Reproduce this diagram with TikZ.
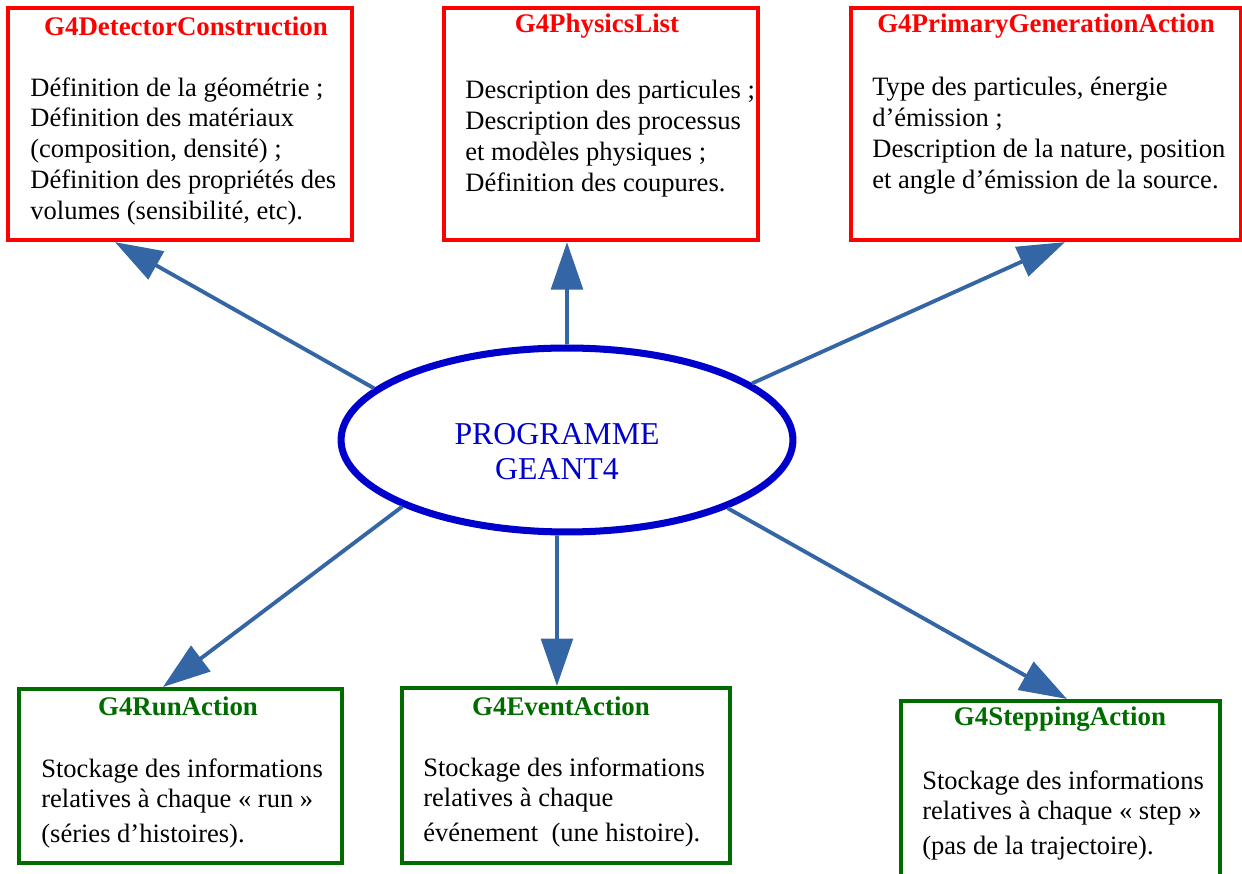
\documentclass[tikz,border=0pt]{standalone}
\usepackage{fontspec}
\setmainfont{Liberation Serif}
\usetikzlibrary{arrows.meta,shapes.geometric}

\definecolor{boxred}{RGB}{255,0,0}
\definecolor{boxgreen}{RGB}{0,108,0}
\definecolor{linkblue}{RGB}{52,101,164}
\definecolor{progblue}{RGB}{0,0,204}

\tikzset{
	classbox/.style={shape=rectangle, anchor=north west, line width=2.1pt, inner sep=0pt},
	redbox/.style={classbox, draw=boxred},
	greenbox/.style={classbox, draw=boxgreen},
	title/.style={font=\fontsize{15.3}{17.6}\selectfont\bfseries, inner sep=0pt},
	body/.style={font=\fontsize{15.1}{17.6}\selectfont, align=left, anchor=north west, inner sep=0pt},
	link/.style={-{Triangle[length=27pt,width=18pt]}, color=linkblue, line width=2.2pt}
}

\begin{document}
\begin{tikzpicture}[x=0.02cm, y=-0.02cm]
	
	\useasboundingbox (0,0) rectangle (1242,874);
	\clip (0,0) rectangle (1242,874);
	
	% classes filled in by the user
	\node[redbox, minimum width=6.89cm, minimum height=4.65cm] (det) at (6,6) {};
	\node[redbox, minimum width=6.29cm, minimum height=4.65cm] (phys) at (442,6) {};
	\node[redbox, minimum width=7.8cm, minimum height=4.65cm] (prim) at (849,6) {};
	\node[title, boxred] (detT) at (186,26) {G4DetectorConstruction};
	\node[title, boxred] (physT) at (597,26) {G4PhysicsList};
	\node[title, boxred] (primT) at (1046,26) {G4PrimaryGenerationAction};
	\node[body] (detX) at (30,77) {Définition de la géométrie ;\\Définition des matériaux\\(composition, densité) ;\\Définition des propriétés des\\volumes (sensibilité, etc).};
	\node[body] (physX) at (465,80) {Description des particules ;\\Description des processus\\et modèles physiques ;\\Définition des coupures.};
	\node[body] (primX) at (872,77) {Type des particules, énergie\\d’émission ;\\Description de la nature, position\\et angle d’émission de la source.};
	
	% optional user actions
	\node[greenbox, minimum width=6.46cm, minimum height=3.49cm] (run) at (17,687) {};
	\node[greenbox, minimum width=6.56cm, minimum height=3.51cm] (event) at (400,686) {};
	\node[greenbox, minimum width=6.39cm, minimum height=4cm] (step) at (899,699) {};
	\node[title, boxgreen] (runT) at (178,706) {G4RunAction};
	\node[title, boxgreen] (eventT) at (561,706) {G4EventAction};
	\node[title, boxgreen] (stepT) at (1060,719) {G4SteppingAction};
	\node[body] (runX) at (41,758) {Stockage des informations\\relatives à chaque «~run~»\\[2pt](séries d’histoires).};
	\node[body] (eventX) at (423,757) {Stockage des informations\\relatives à chaque\\[2pt]événement\ ~(une histoire).};
	\node[body] (stepX) at (922,770) {Stockage des informations\\relatives à chaque «~step~»\\[2pt](pas de la trajectoire).};
	
	% main program
	\node[shape=ellipse, draw=progblue, line width=4pt, minimum width=9.04cm, minimum height=3.68cm] (prog) at (567,440) {};
	\node[align=center, text=progblue, font=\fontsize{18.1}{20}\selectfont] (progT) at (557,452) {PROGRAMME\\GEANT4};
	
	\path[link] (prog.165.5) edge ([xshift=2.18cm]det.south west);
	\path[link] (prog.north) edge ([xshift=2.5cm]phys.south west);
	\path[link] (prog.17.8) edge ([xshift=4.32cm]prim.south west);
	\path[link] (prog.202.5) edge ([xshift=2.92cm]run.north west);
	\path[link] (prog.264) edge ([xshift=3.14cm]event.north west);
	\path[link] (prog.337.4) edge ([xshift=3.36cm]step.north west);
	
\end{tikzpicture}
\end{document}
